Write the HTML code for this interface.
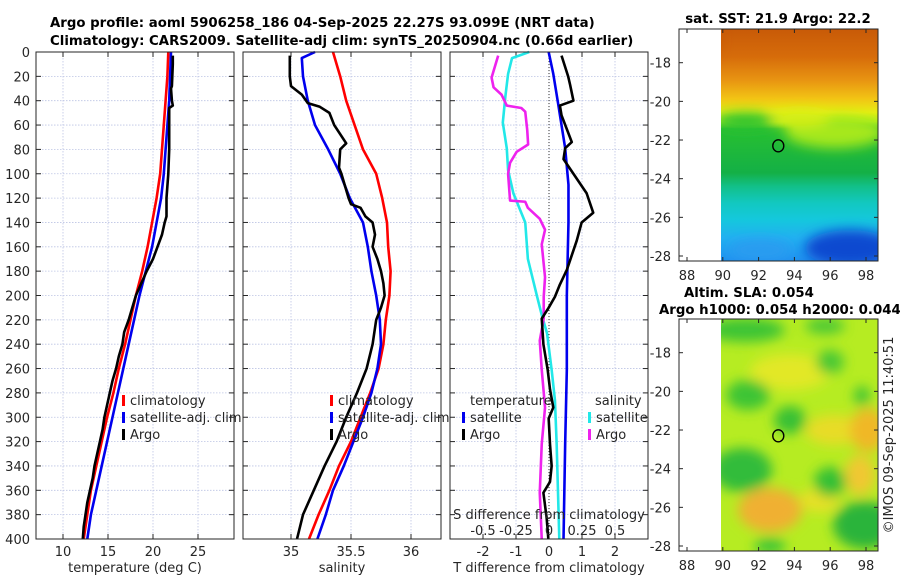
<!DOCTYPE html>
<html><head><meta charset="utf-8"><style>
html,body{margin:0;padding:0;background:#fff;}
svg{display:block;font-family:"DejaVu Sans","Liberation Sans",sans-serif;}
.t{font-size:13px;fill:#262626;}
.b{font-size:13.3px;font-weight:bold;fill:#000;}
</style></head><body>
<svg id="s" width="900" height="580" viewBox="0 0 900 580" xmlns="http://www.w3.org/2000/svg">
<defs>
<filter id="bl" x="-50%" y="-50%" width="200%" height="200%"><feGaussianBlur stdDeviation="6"/></filter>
<linearGradient id="sst" x1="0" y1="0" x2="0" y2="1">
<stop offset="0" stop-color="#c85a08"/><stop offset="0.12" stop-color="#d66c0a"/>
<stop offset="0.22" stop-color="#e89412"/><stop offset="0.30" stop-color="#f2c414"/>
<stop offset="0.36" stop-color="#e6ee14"/><stop offset="0.40" stop-color="#b0ee18"/>
<stop offset="0.43" stop-color="#28c030"/><stop offset="0.62" stop-color="#14b046"/>
<stop offset="0.68" stop-color="#12c08a"/><stop offset="0.75" stop-color="#12c8c0"/>
<stop offset="0.82" stop-color="#14c8dc"/><stop offset="0.90" stop-color="#22b0f0"/>
<stop offset="1" stop-color="#2090f0"/></linearGradient>
<clipPath id="c1"><rect x="721" y="29" width="157" height="232"/></clipPath>
<clipPath id="c2"><rect x="721" y="319" width="157" height="232"/></clipPath>
</defs>
<text class="b" x="50" y="27">Argo profile: aoml 5906258_186 04-Sep-2025 22.27S 93.099E (NRT data)</text>
<text class="b" x="50" y="45">Climatology: CARS2009. Satellite-adj clim: synTS_20250904.nc (0.66d earlier)</text>
<g id="g"></g>
</svg>
<script>
// ---- data ----
const stdDepths = [0,20,40,60,80,100,120,140,160,180,200,220,240,260,280,300,320,340,360,380,400];
const climT = [21.7,21.6,21.4,21.2,21.0,20.8,20.4,19.9,19.4,18.8,18.1,17.5,16.9,16.2,15.6,14.9,14.3,13.7,13.1,12.7,12.3];
const satT = [22.0,21.9,21.8,21.6,21.4,21.2,20.9,20.4,19.9,19.2,18.5,17.9,17.3,16.7,16.1,15.5,14.9,14.3,13.7,13.1,12.7];
const argoTDepths = [3,10,28,30,40,44,46,60,80,100,120,135,140,150,160,170,180,190,200,210,220,230,240,250,260,270,280,290,300,310,320,330,340,350,360,370,380,390,400];
const argoT = [22.2,22.2,22.1,22.0,22.1,22.2,21.8,21.8,21.8,21.7,21.5,21.5,21.3,21.0,20.5,20.0,19.3,18.7,18.1,17.7,17.3,16.8,16.6,16.2,15.9,15.5,15.2,14.9,14.6,14.4,14.1,13.8,13.5,13.3,13.0,12.7,12.5,12.3,12.2];
const climS = [35.35,35.41,35.46,35.53,35.6,35.71,35.76,35.8,35.81,35.83,35.82,35.79,35.77,35.73,35.66,35.58,35.5,35.4,35.32,35.23,35.15];
const satSDepths = [0,5,20,40,60,80,100,120,140,160,180,200,220,240,260,280,300,320,340,360,380,400];
const satS = [35.2,35.09,35.1,35.14,35.2,35.31,35.41,35.49,35.6,35.64,35.67,35.71,35.74,35.75,35.72,35.67,35.6,35.52,35.44,35.35,35.29,35.22];
const argoSDepths = [3,20,28,35,42,45,50,60,75,80,95,100,120,125,128,135,140,150,160,170,180,190,200,210,220,240,260,280,300,320,340,360,380,400];
const argoS = [34.99,34.99,35.0,35.09,35.14,35.24,35.32,35.36,35.46,35.41,35.4,35.42,35.48,35.5,35.58,35.62,35.68,35.7,35.68,35.72,35.75,35.77,35.78,35.75,35.71,35.68,35.63,35.55,35.46,35.38,35.28,35.19,35.1,35.05];
const satDTDepths = [0,18,43,79,109,140,200,261,322,400];
const satDT = [-0.01,0.13,0.28,0.49,0.59,0.59,0.54,0.54,0.49,0.44];
const argoDTDepths = [3,20,27,40,44,52,74,79,88,100,116,132,140,155,167,179,191,201,210,219,240,261,277,292,301,322,340,353,362,383,400];
const argoDT = [0.38,0.58,0.64,0.74,0.33,0.38,0.69,0.49,0.44,0.74,1.14,1.34,0.99,0.84,0.69,0.54,0.33,0.18,-0.01,-0.22,-0.17,-0.04,0.03,0.13,-0.01,0.03,0.08,0.03,-0.17,-0.07,-0.02];
const satDSDepths = [0,5,18,36,58,79,97,116,140,170,201,216,231,261,286,322,400];
const satDS = [-0.15,-0.28,-0.31,-0.33,-0.35,-0.32,-0.31,-0.27,-0.18,-0.16,-0.09,-0.055,-0.015,0.02,0.045,0.058,0.078];
const argoDSDepths = [3,21,29,35,44,46,49,64,76,82,91,100,122,123,128,137,146,158,185,201,219,237,261,292,322,362,400];
const argoDS = [-0.385,-0.435,-0.42,-0.36,-0.32,-0.21,-0.18,-0.165,-0.158,-0.245,-0.295,-0.31,-0.295,-0.18,-0.16,-0.07,-0.03,-0.055,-0.03,-0.04,-0.04,-0.07,-0.055,-0.03,-0.055,-0.07,-0.055];
const depthTicks = [0,20,40,60,80,100,120,140,160,180,200,220,240,260,280,300,320,340,360,380,400];
const tempTicks = [10,15,20,25];
const salTicks = [35,35.5,36];
const dTTicks = [-2,-1,0,1,2];
const dSTicks = [-0.5,-0.25,0,0.25,0.5];
const dSTickLabels = ['-0.5','-0.25','0','0.25','0.5'];
const latTicks = [-18,-20,-22,-24,-26,-28];
const lonTicks = [88,90,92,94,96,98];
const argoLon = 93.1, argoLat = -22.3;

// ---- scales ----
const Y0=52, Y1=539;
const yS = d => Y0 + d*(Y1-Y0)/400;
const P = [
  {x0:36, x1:234, lo:7, hi:29},
  {x0:243, x1:441, lo:34.6, hi:36.25},
  {x0:450, x1:648, lo:-3, hi:3}
];
const xS = (p,v) => p.x0 + (v-p.lo)*(p.x1-p.x0)/(p.hi-p.lo);
const xDS = v => xS(P[2], v*4);
const NS='http://www.w3.org/2000/svg';
const G=document.getElementById('g');
function mk(tag, attrs, parent){const e=document.createElementNS(NS,tag);for(const k in attrs)e.setAttribute(k,attrs[k]);(parent||G).appendChild(e);return e;}
function txt(x,y,s,anchor,cls){const e=mk('text',{x:x,y:y,'text-anchor':anchor||'middle','class':cls||'t'});e.textContent=s;return e;}

// panels
P.forEach((p,i)=>{
  const fr=mk('rect',{x:p.x0,y:Y0,width:p.x1-p.x0,height:Y1-Y0,fill:'#fff',stroke:'none'});
  
  
  depthTicks.forEach(d=>{
    const gl=mk('line',{x1:p.x0,x2:p.x1,y1:yS(d),y2:yS(d),stroke:'#bcc4e4','stroke-width':0.8,'stroke-dasharray':'1.5,1.5'});
    
    
    mk('line',{x1:p.x0,x2:p.x0+5,y1:yS(d),y2:yS(d),stroke:'#262626','stroke-width':1});
    mk('line',{x1:p.x1-5,x2:p.x1,y1:yS(d),y2:yS(d),stroke:'#262626','stroke-width':1});
  });
  const xt = i===0?tempTicks:(i===1?salTicks:dTTicks);
  xt.forEach(v=>{
    const x=xS(p,v);
    const gl=mk('line',{x1:x,x2:x,y1:Y0,y2:Y1,stroke:'#bcc4e4','stroke-width':0.8,'stroke-dasharray':'1.5,1.5'});
    
    
    mk('line',{x1:x,x2:x,y1:Y1-5,y2:Y1,stroke:'#262626'});
    mk('line',{x1:x,x2:x,y1:Y0,y2:Y0+5,stroke:'#262626'});
    const l=txt(x,556,String(v));
    
    
  });
});
depthTicks.forEach(d=>{
  const l=txt(30,yS(d)+5,String(d),'end');
  
  
});
// zero line panel 3
const zl=mk('line',{x1:xS(P[2],0),x2:xS(P[2],0),y1:Y0,y2:Y1,stroke:'#333','stroke-width':1,'stroke-dasharray':'1,2'});



function series(p, xf, depths, vals, color, name){
  let d='';
  depths.forEach((dp,k)=>{d+=(k?'L':'M')+xf(vals[k]).toFixed(2)+','+yS(dp).toFixed(2);});
  const e=mk('path',{d:d,fill:'none',stroke:color,'stroke-width':2.6,'stroke-linejoin':'round'});
  
  
}
const f1=v=>xS(P[0],v), f2=v=>xS(P[1],v), f3=v=>xS(P[2],v);
series(0,f1,stdDepths,climT,'#ff0000','temperature-climatology-line');
series(0,f1,stdDepths,satT,'#0000ee','temperature-satellite-adj-line');
series(0,f1,argoTDepths,argoT,'#000000','temperature-argo-line');
series(1,f2,stdDepths,climS,'#ff0000','salinity-climatology-line');
series(1,f2,satSDepths,satS,'#0000ee','salinity-satellite-adj-line');
series(1,f2,argoSDepths,argoS,'#000000','salinity-argo-line');
series(2,xDS,satDSDepths,satDS,'#22e8e8','salinity-diff-satellite-line');
series(2,xDS,argoDSDepths,argoDS,'#ee22ee','salinity-diff-argo-line');
series(2,f3,satDTDepths,satDT,'#0000ee','temperature-diff-satellite-line');
series(2,f3,argoDTDepths,argoDT,'#000000','temperature-diff-argo-line');

// panel borders on top
P.forEach(p=>{mk('rect',{x:p.x0,y:Y0,width:p.x1-p.x0,height:Y1-Y0,fill:'none',stroke:'#262626','stroke-width':1});});

// S tick labels in panel 3
const sl=txt(xS(P[2],0),519,'S difference from climatology');


dSTicks.forEach((v,k)=>{
  const l=txt(xDS(v),535,dSTickLabels[k]);
  
  
});

// axis titles
[[135,'temperature (deg C)','temperature-axis-title'],[342,'salinity','salinity-axis-title'],[549,'T difference from climatology','t-difference-axis-title']].forEach(a=>{
  const l=txt(a[0],572,a[1]);
  
  
});

// legends
function legend(x,y,items,name){
  items.forEach((it,k)=>{
    const yy=y+k*17;
    if(it[0]) mk('rect',{x:x,y:yy-10,width:3,height:11,fill:it[0]});
    const l=txt(x+(it[0]?8:0),yy,it[1],'start');
    
    
  });
}
legend(122,405,[['#ff0000','climatology'],['#0000ee','satellite-adj. clim'],['#000000','Argo']],'temperature-legend');
legend(330,405,[['#ff0000','climatology'],['#0000ee','satellite-adj. clim'],['#000000','Argo']],'salinity-legend');
legend(470,405,[[null,'temperature']],'diff-legend');
legend(462,422,[['#0000ee','satellite'],['#000000','Argo']],'diff-legend-t');
legend(595,405,[[null,'salinity']],'diff-legend');
legend(588,422,[['#22e8e8','satellite'],['#ee22ee','Argo']],'diff-legend-s');

// maps
function mapAxes(top, bottom, title1, title2, name){
  const lonX=v=>687+(v-88)*17.9;
  const latY=v=>(top+33.7)+(-18-v)*19.33;
  mk('rect',{x:679,y:top,width:199,height:bottom-top,fill:'none',stroke:'#262626'});
  latTicks.forEach(v=>{
    const y=latY(v);
    mk('line',{x1:679,x2:683,y1:y,y2:y,stroke:'#262626'});
    mk('line',{x1:874,x2:878,y1:y,y2:y,stroke:'#262626'});
    const l=txt(671,y+5,String(v),'end');
    
    
  });
  lonTicks.forEach(v=>{
    const x=lonX(v);
    mk('line',{x1:x,x2:x,y1:bottom-4,y2:bottom,stroke:'#262626'});
    mk('line',{x1:x,x2:x,y1:top,y2:top+4,stroke:'#262626'});
    const l=txt(x,bottom+19,String(v));
    
    
  });
  const c=mk('ellipse',{cx:lonX(argoLon),cy:latY(argoLat),rx:5.5,ry:6,fill:'none',stroke:'#000','stroke-width':1.4});
  
  
}
// SST map
const m1=mk('g',{'clip-path':'url(#c1)'});


mk('rect',{x:721,y:29,width:157,height:232,fill:'url(#sst)'},m1);
const b1=mk('g',{filter:'url(#bl)'},m1);
[[835,132,50,16,'#a6e81c'],[800,118,30,8,'#d8ee18'],[745,121,30,8,'#28c030'],[850,248,45,18,'#0848d0'],[760,250,30,10,'#2c9cf0'],[700,40,20,20,'#c85a08']].forEach(e=>{
  mk('ellipse',{cx:e[0],cy:e[1],rx:e[2],ry:e[3],fill:e[4]},b1);
});
mapAxes(29,261,'','','sst-map');
const st=txt(778,23,'sat. SST: 21.9 Argo: 22.2','middle','b');


// SLA map
const m2=mk('g',{'clip-path':'url(#c2)'});


mk('rect',{x:721,y:319,width:157,height:232,fill:'#b6ec22'},m2);
const b2=mk('g',{filter:'url(#bl)'},m2);
[[790,372,40,18,'#e2e828'],[835,430,30,15,'#e8dc28'],[868,430,18,22,'#f0b828'],[770,510,32,22,'#f0b030'],[820,500,20,12,'#e8e028'],[860,475,15,20,'#f0c830'],
 [745,330,40,12,'#3cc436'],[748,395,22,15,'#3cc436'],[790,420,16,14,'#38c036'],[742,470,30,22,'#30bc3a'],[830,482,16,15,'#36c036'],[865,525,32,24,'#2cb43a'],[770,546,16,8,'#3cc436'],[830,362,14,12,'#4ac836'],[862,396,8,10,'#40c436'],[825,326,20,8,'#48c836']].forEach(e=>{
  mk('ellipse',{cx:e[0],cy:e[1],rx:e[2],ry:e[3],fill:e[4]},b2);
});
mapAxes(319,551,'','','sla-map');
const s1=txt(684,297,'Altim. SLA: 0.054','start','b');


const s2=txt(659,314,'Argo h1000: 0.054 h2000: 0.044','start','b');


const cp=txt(0,0,'©IMOS 09-Sep-2025 11:40:51');
cp.setAttribute('transform','translate(893,435) rotate(-90)');


</script>
</body></html>
